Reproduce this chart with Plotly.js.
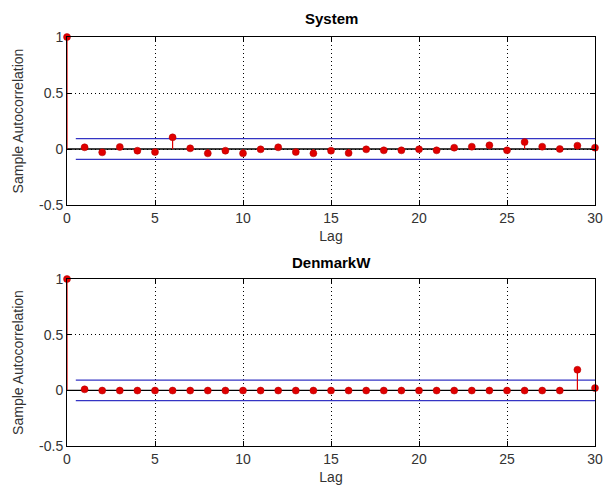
<!DOCTYPE html>
<html>
<head>
<meta charset="utf-8">
<script src="https://cdn.plot.ly/plotly-3.0.1.min.js"></script>
<style>html,body{margin:0;padding:0;background:#fff;}#chart{width:603px;height:490px;}</style>
</head>
<body>
<div id="chart"></div>
<script>
const lags = [0,1,2,3,4,5,6,7,8,9,10,11,12,13,14,15,16,17,18,19,20,21,22,23,24,25,26,27,28,29,30];
const systemAcf = [1,0.015,-0.03,0.018,-0.015,-0.027,0.104,0.006,-0.039,-0.015,-0.039,-0.003,0.015,-0.027,-0.039,-0.015,-0.036,-0.003,-0.012,-0.012,-0.003,-0.012,0.012,0.021,0.033,-0.012,0.062,0.021,0,0.03,0.012];
const denmarkAcf = [1,0.009,-0.002,-0.002,-0.002,-0.002,-0.002,-0.002,-0.002,-0.002,-0.002,-0.002,-0.002,-0.002,-0.002,-0.002,-0.002,-0.002,-0.002,-0.002,-0.002,-0.002,-0.002,-0.002,-0.002,-0.002,-0.002,-0.002,-0.002,0.185,0.02];
const bound = 0.092;
const boundRange = [0.5, 30];
const titles = ["System", "DenmarkW"];
const xTicks = [0,5,10,15,20,25,30];
const yTicks = [-0.5,0,0.5,1];

const red = '#e00000';
const blue = '#3434c4';
const font = 'Liberation Sans, Arial, sans-serif';

function stemTraces(acf, xa, ya) {
  const sx = [], sy = [];
  lags.forEach((l, i) => { sx.push(l, l, null); sy.push(0, acf[i], null); });
  return [
    {x: [lags[0], lags[lags.length-1]], y: [0, 0], mode: 'lines', line: {color: '#000', width: 1.3}, xaxis: xa, yaxis: ya, hoverinfo: 'skip'},
    {x: boundRange, y: [bound, bound], mode: 'lines', line: {color: blue, width: 1.3}, xaxis: xa, yaxis: ya},
    {x: boundRange, y: [-bound, -bound], mode: 'lines', line: {color: blue, width: 1.3}, xaxis: xa, yaxis: ya},
    {x: sx, y: sy, mode: 'lines', line: {color: red, width: 1.2}, xaxis: xa, yaxis: ya},
    {x: lags, y: acf, mode: 'markers', marker: {color: red, size: 7, line: {color: '#b00000', width: 0.5}}, xaxis: xa, yaxis: ya, cliponaxis: false}
  ];
}

const data = [...stemTraces(systemAcf, 'x', 'y'), ...stemTraces(denmarkAcf, 'x2', 'y2')];

function xax(anchor) {
  return {
    domain: [67/603, 595/603], anchor: anchor, range: [0, 30], tickvals: xTicks, ticktext: xTicks.map(String),
    showline: true, mirror: 'ticks', linecolor: '#000', linewidth: 1, ticks: 'inside', ticklen: 5, tickcolor: '#000',
    showgrid: true, gridcolor: '#000', griddash: '1px,3px', gridwidth: 1, zeroline: false,
    ticklabeloverflow: 'allow',
    tickfont: {family: font, size: 14, color: '#333'},
    title: {text: 'Lag', font: {family: font, size: 14, color: '#333'}, standoff: 6}
  };
}
function yax(anchor, dom) {
  return {
    domain: dom, anchor: anchor, range: [-0.5, 1], tickvals: yTicks, ticktext: yTicks.map(String),
    showline: true, mirror: 'ticks', linecolor: '#000', linewidth: 1, ticks: 'inside', ticklen: 5, tickcolor: '#000',
    showgrid: true, gridcolor: '#000', griddash: '1px,3px', gridwidth: 1, zeroline: false,
    ticklabeloverflow: 'allow',
    tickfont: {family: font, size: 14, color: '#333'},
    title: {text: 'Sample Autocorrelation', font: {family: font, size: 14, color: '#333'}, standoff: 12}
  };
}

const layout = {
  width: 603, height: 490, margin: {l: 0, r: 0, t: 0, b: 0},
  paper_bgcolor: '#fff', plot_bgcolor: '#fff', showlegend: false,
  xaxis: xax('y'), yaxis: yax('x', [(490-205)/490, (490-37)/490]),
  xaxis2: xax('y2'), yaxis2: yax('x2', [(490-446)/490, (490-279)/490]),
  annotations: [
    {text: '<b>' + titles[0] + '</b>', xref: 'paper', yref: 'paper', x: 331/603, y: (490-18)/490, yanchor: 'middle', showarrow: false, font: {family: font, size: 15, color: '#000'}},
    {text: '<b>' + titles[1] + '</b>', xref: 'paper', yref: 'paper', x: 331/603, y: (490-262)/490, yanchor: 'middle', showarrow: false, font: {family: font, size: 15, color: '#000'}}
  ]
};

Plotly.newPlot('chart', data, layout, {displayModeBar: false, staticPlot: true});
</script>
</body>
</html>
